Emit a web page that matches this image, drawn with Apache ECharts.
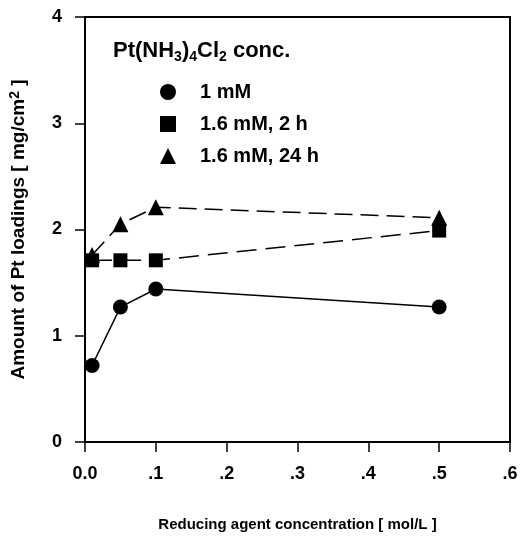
<!DOCTYPE html>
<html>
<head>
<meta charset="utf-8">
<script src="https://cdn.jsdelivr.net/npm/echarts@6/dist/echarts.min.js"></script>
<style>
    html, body { margin: 0; padding: 0; background: #fff; }
    #chart { width: 525px; height: 539px; }
</style>
</head>
<body>
<div id="chart"></div>
<script>
// 还原数据
const concX = [0.01, 0.05, 0.1, 0.5];
const load1mM = [0.72, 1.27, 1.44, 1.27];
const load16mM2h = [1.71, 1.71, 1.71, 1.99];
const load16mM24h = [1.76, 2.05, 2.21, 2.11];
const seriesNames = ['1 mM', '1.6 mM, 2 h', '1.6 mM, 24 h'];
const xTickLabels = ['0.0', '.1', '.2', '.3', '.4', '.5', '.6'];

const font = 'Liberation Sans, Arial, sans-serif';

function pairs(ys) {
    return concX.map((x, i) => [x, ys[i]]);
}

let myChart = echarts.init(document.getElementById('chart'));
myChart.setOption({
    animation: false,
    backgroundColor: '#fff',
    title: {
        left: 108,
        top: 33,
        text: '{t|Pt(NH}{s|3}{t|)}{s|4}{t|Cl}{s|2}{t| conc.}',
        textStyle: {
            rich: {
                t: { fontFamily: font, fontWeight: 'bold', fontSize: 22, color: '#000' },
                s: { fontFamily: font, fontWeight: 'bold', fontSize: 14, color: '#000', verticalAlign: 'bottom', padding: [12, 0, 0, 0] },
            },
        },
    },
    legend: {
        orient: 'vertical',
        left: 155,
        top: 77,
        itemWidth: 16,
        itemHeight: 16,
        itemGap: 12,
        data: [
            { name: seriesNames[0], icon: 'circle' },
            { name: seriesNames[1], icon: 'rect' },
            { name: seriesNames[2], icon: 'triangle' },
        ],
        textStyle: {
            fontFamily: font,
            fontWeight: 'bold',
            fontSize: 20,
            color: '#000',
            padding: [0, 0, 0, 19],
        },
    },
    grid: {
        left: 83,
        right: 15,
        top: 17,
        bottom: 97,
        show: true,
        borderColor: '#000',
        borderWidth: 2,
    },
    xAxis: {
        type: 'value',
        min: 0,
        max: 0.6,
        interval: 0.1,
        name: 'Reducing agent concentration [ mol/L ]',
        nameLocation: 'middle',
        nameGap: 75,
        nameTextStyle: { fontFamily: font, fontWeight: 'bold', fontSize: 15, color: '#000' },
        axisLine: { lineStyle: { color: '#000', width: 2 } },
        axisTick: { length: 10, lineStyle: { color: '#000', width: 1.5 } },
        axisLabel: {
            margin: 23,
            fontFamily: font,
            fontWeight: 'bold',
            fontSize: 18,
            color: '#000',
            formatter: (v) => xTickLabels[Math.round(v * 10)],
        },
        splitLine: { show: false },
    },
    yAxis: {
        type: 'value',
        min: 0,
        max: 4,
        interval: 1,
        name: '{t|Amount of Pt loadings [ mg/cm}{s|2}{t| ]}',
        nameLocation: 'middle',
        nameGap: 55,
        nameTextStyle: {
            rich: {
                t: { fontFamily: font, fontWeight: 'bold', fontSize: 19, color: '#000' },
                s: { fontFamily: font, fontWeight: 'bold', fontSize: 14, color: '#000', verticalAlign: 'top', padding: [0, 0, 8, 0] },
            },
        },
        axisLine: { lineStyle: { color: '#000', width: 2 } },
        axisTick: { length: 10, lineStyle: { color: '#000', width: 1.5 } },
        axisLabel: {
            margin: 23,
            fontFamily: font,
            fontWeight: 'bold',
            fontSize: 18,
            color: '#000',
        },
        splitLine: { show: false },
    },
    series: [
        {
            name: seriesNames[0],
            type: 'line',
            data: pairs(load1mM),
            symbol: 'circle',
            symbolSize: 15,
            itemStyle: { color: '#000' },
            lineStyle: { color: '#000', width: 1.5 },
        },
        {
            name: seriesNames[1],
            type: 'line',
            data: pairs(load16mM2h),
            symbol: 'rect',
            symbolSize: 14,
            itemStyle: { color: '#000' },
            lineStyle: { color: '#000', width: 1.5, type: [20, 9] },
        },
        {
            name: seriesNames[2],
            type: 'line',
            data: pairs(load16mM24h),
            symbol: 'triangle',
            symbolSize: 16,
            itemStyle: { color: '#000' },
            lineStyle: { color: '#000', width: 1.5, type: [18, 8] },
        },
    ],
});
</script>
</body>
</html>
